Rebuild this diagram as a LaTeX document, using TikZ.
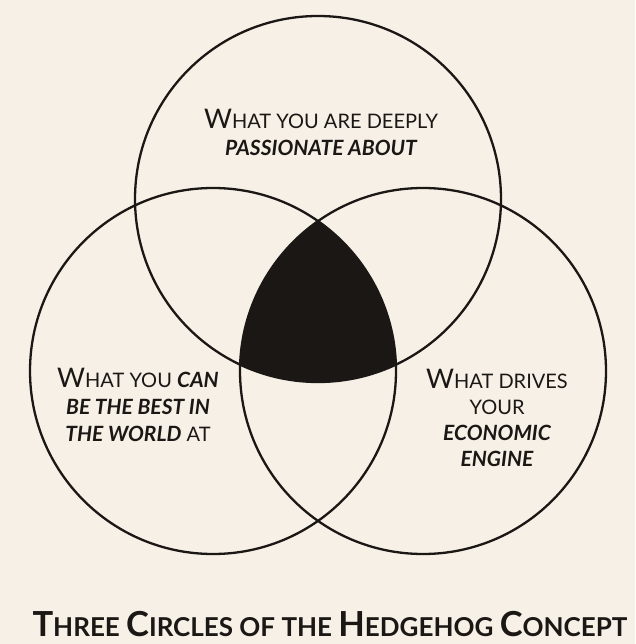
\documentclass[tikz,border=0pt]{standalone}
\usepackage{fontspec}
\setmainfont{Lato}
\usetikzlibrary{positioning}
\definecolor{paper}{RGB}{246,240,230}
\definecolor{ink}{RGB}{26,23,21}
% fake small caps: big initial, smaller rest
\newcommand{\capsc}[2]{{\fontsize{27}{27}\selectfont #1}{\fontsize{20}{20}\selectfont #2}}
\newcommand{\bigsc}[2]{{\fontsize{34.5}{34}\selectfont #1}{\fontsize{26}{26}\selectfont #2}}
\newcommand{\hilite}[1]{{\fontsize{21}{27}\selectfont\bfseries\itshape #1}}
\tikzset{ring/.style={draw=ink, line width=2.3pt},
core/.style={fill=ink},
label_t/.style={align=center, inner sep=0pt, text=ink, anchor=north, font=\fontsize{20}{27}\selectfont},
title_t/.style={inner sep=0pt, text=ink, anchor=base, font=\bfseries\fontsize{26}{27}\selectfont}}
\begin{document}
\begin{tikzpicture}[x=1pt, y=-1pt]
  \fill[paper] (0,0) rectangle (635,644);
  \coordinate (pc) at (318,199);
  \coordinate (bc) at (213,371);
  \coordinate (ec) at (423,371);
  % centre where all three meet
  \begin{scope}
    \clip (pc) circle (183);
    \clip (bc) circle (183);
    \fill[core] (ec) circle (183);
  \end{scope}
  \draw[ring] (pc) circle (183);
  \draw[ring] (bc) circle (183);
  \draw[ring] (ec) circle (183);
  % labels
  \node[label_t] (passion) at (321,109)
    {\capsc{W}{HAT YOU ARE DEEPLY}\\ \hilite{PASSIONATE ABOUT}};
  \node[label_t] (best) at (138,368)
    {\capsc{W}{HAT YOU} \hilite{CAN}\\ \hilite{BE THE BEST IN}\\ \hilite{THE WORLD} AT};
  \node[label_t, font=\fontsize{20}{26}\selectfont] (engine) at (497,369)
    {\capsc{W}{HAT DRIVES}\\ YOUR\\ \hilite{ECONOMIC}\\ \hilite{ENGINE}};
  \node[title_t] (title) at (330,636)
    {\bigsc{T}{HREE} \bigsc{C}{IRCLES} OF THE \bigsc{H}{EDGEHOG} \bigsc{C}{ONCEPT}};
\end{tikzpicture}
\end{document}
